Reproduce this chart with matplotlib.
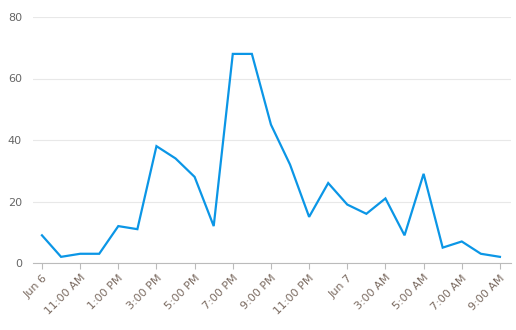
import matplotlib
matplotlib.use("Agg")
import matplotlib.pyplot as plt

hours = list(range(25))
values = [9, 2, 3, 3, 12, 11, 38, 34, 28, 12, 68, 68, 45, 32, 15, 26, 19, 16, 21, 9, 29, 5, 7, 3, 2]
tick_labels = ["Jun 6", "11:00 AM", "1:00 PM", "3:00 PM", "5:00 PM", "7:00 PM", "9:00 PM",
               "11:00 PM", "Jun 7", "3:00 AM", "5:00 AM", "7:00 AM", "9:00 AM"]
y_ticks = [0, 20, 40, 60, 80]

fig = plt.figure(figsize=(5.16, 3.30), dpi=100)
ax = fig.add_axes([33/516, (330-263)/330, (511-33)/516, (263-17)/330])
ax.plot(hours, values, color="#0b96e6", linewidth=1.6, solid_joinstyle="miter")
ax.set_xlim(-0.47, 24.58)
ax.set_ylim(0, 80)
ax.set_yticks(y_ticks)
ax.set_xticks(hours[::2])
ax.set_xticklabels(tick_labels, rotation=45, ha="right", rotation_mode="anchor")
ax.grid(axis="y", color="#e8e8e8", linewidth=0.8)
ax.set_axisbelow(True)
for s in ["top", "right", "left"]:
    ax.spines[s].set_visible(False)
ax.spines["bottom"].set_color("#bbbbbb")
ax.tick_params(axis="y", length=0, pad=8, labelsize=8, labelcolor="#666666")
ax.tick_params(axis="x", length=4, color="#bbbbbb", labelsize=8, labelcolor="#7a6a60", pad=3)
fig.savefig("out.png", dpi=100)
